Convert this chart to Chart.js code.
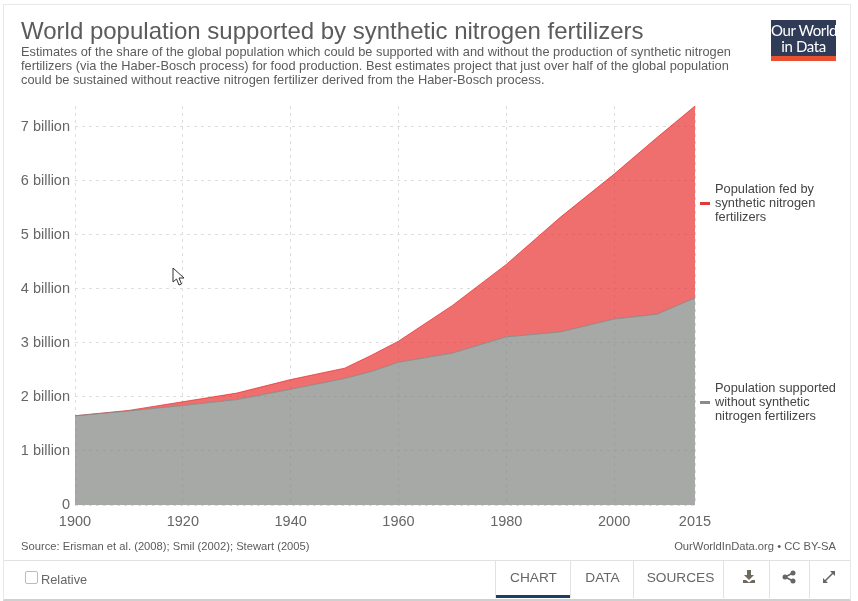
<!DOCTYPE html>
<html>
<head>
<meta charset="utf-8">
<script src="https://cdn.jsdelivr.net/npm/chart.js@4"></script>
<style>
  html, body { margin: 0; padding: 0; background: #fff; }
  body { width: 858px; height: 601px; position: relative; overflow: hidden; font-family: "Liberation Sans", Arial, sans-serif; }
  #frame { position: absolute; left: 3px; top: 4px; width: 846px; height: 594px; border: 1px solid #e8e8e8; border-bottom: 2px solid #d0d0d0; }
  #chart { position: absolute; left: 0; top: 0; }
  .t { position: absolute; white-space: nowrap; }
  #title { left: 21px; top: 17px; font-size: 24px; color: #5b5b5b; }
  #sub { left: 21px; top: 45px; font-size: 12.8px; line-height: 14px; color: #5b5b5b; }
  #logo { position: absolute; left: 771px; top: 20px; width: 65px; height: 41px; background: #2f3b57; color: #fff; text-align: center; font-family: Lato, sans-serif; font-size: 15px; line-height: 16px; white-space: nowrap; }
  #logo div { padding-top: 2px; letter-spacing: -0.4px; }
  #logo i { position: absolute; left: 0; bottom: 0; width: 100%; height: 5px; background: #e8502f; }
  .leg { position: absolute; left: 715px; font-size: 12.8px; line-height: 14px; color: #444; white-space: nowrap; }
  .dash { position: absolute; left: 700px; width: 10px; height: 3px; }
  #src { left: 21px; top: 540px; font-size: 11.2px; color: #5b5b5b; }
  #owid { right: 22px; top: 540px; font-size: 11.2px; color: #5b5b5b; }
  #bar { position: absolute; left: 4px; top: 560px; width: 846px; height: 38px; border-top: 1px solid #e2e2e2; }
  #check { position: absolute; left: 25px; top: 571px; width: 11px; height: 11px; border: 1px solid #bbb; border-radius: 2px; }
  #rel { left: 41px; top: 572px; font-size: 12.8px; color: #666; }
  .tab { position: absolute; top: 561px; height: 37px; border-left: 1px solid #e2e2e2; font-size: 13.7px; line-height: 33px; color: #666; text-align: center; }
  .ico { position: absolute; top: 570px; }
  #cur { position: absolute; left: 172px; top: 267px; }
</style>
</head>
<body>
<div id="frame"></div>
<canvas id="chart" width="858" height="601"></canvas>
<div class="t" id="title">World population supported by synthetic nitrogen fertilizers</div>
<div class="t" id="sub">Estimates of the share of the global population which could be supported with and without the production of synthetic nitrogen<br>fertilizers (via the Haber-Bosch process) for food production. Best estimates project that just over half of the global population<br>could be sustained without reactive nitrogen fertilizer derived from the Haber-Bosch process.</div>
<div id="logo"><div>Our World<br>in Data</div><i></i></div>
<div class="dash" style="top:202px;background:#e03a3a"></div>
<div class="leg" style="top:182px">Population fed by<br>synthetic nitrogen<br>fertilizers</div>
<div class="dash" style="top:401px;background:#8a8c8a"></div>
<div class="leg" style="top:381px">Population supported<br>without synthetic<br>nitrogen fertilizers</div>
<div class="t" id="src">Source: Erisman et al. (2008); Smil (2002); Stewart (2005)</div>
<div class="t" id="owid">OurWorldInData.org • CC BY-SA</div>
<div id="bar"></div>
<div id="check"></div>
<div class="t" id="rel">Relative</div>
<div class="tab" style="left:495px;width:75px">CHART<div style="position:absolute;left:0;right:0;bottom:0;height:3px;background:#1d3d63"></div></div>
<div class="tab" style="left:570px;width:63px">DATA</div>
<div class="tab" style="left:633px;width:87px;padding-left:3px">SOURCES</div>
<div class="tab" style="left:723px;width:46px"></div>
<div class="tab" style="left:769px;width:40px"></div>
<div class="tab" style="left:809px;width:40px"></div>
<svg class="ico" style="left:742px" width="14" height="14" viewBox="0 0 14 14"><path d="M5 0 H9 V5 H12 L7 10 L2 5 H5 Z M1 10 H4 L7 12.5 L10 10 H13 V13 H1 Z" fill="#6e6a5e"/></svg>
<svg class="ico" style="left:782px" width="14" height="14" viewBox="0 0 14 14"><path d="M11 3 L3 7 L11 11" stroke="#666" stroke-width="1.6" fill="none"/><circle cx="11" cy="3" r="2.5" fill="#666"/><circle cx="3" cy="7" r="2.5" fill="#666"/><circle cx="11" cy="11" r="2.5" fill="#666"/></svg>
<svg class="ico" style="left:822px" width="14" height="14" viewBox="0 0 14 14"><path d="M8 1 H13 V6 Z M1 8 V13 H6 Z" fill="#666"/><path d="M11 3 L3 11" stroke="#666" stroke-width="1.6"/></svg>
<svg id="cur" width="14" height="20" viewBox="0 0 14 20"><path d="M1 1 L1 15 L4.5 12 L7 18 L9.5 17 L7 11 L12 11 Z" fill="#fff" stroke="#333" stroke-width="1"/></svg>
<script>
const years = [1900, 1910, 1920, 1930, 1940, 1950, 1955, 1960, 1970, 1980, 1990, 2000, 2008, 2015]
const withoutFertilizer = [1.65, 1.74, 1.84, 1.95, 2.14, 2.34, 2.47, 2.64, 2.81, 3.11, 3.20, 3.44, 3.53, 3.83]
const fedByFertilizer = [0.00, 0.01, 0.07, 0.12, 0.18, 0.19, 0.30, 0.39, 0.88, 1.34, 2.12, 2.68, 3.27, 3.55]
const xTicks = [1900, 1920, 1940, 1960, 1980, 2000, 2015]
const yTicks = [0, 1, 2, 3, 4, 5, 6, 7]

function toPoints(values) {
    return values.map((v, i) => ({x: years[i], y: v}))
}

const config = {
    type: 'line',
    data: {
        datasets: [{
            label: 'Population supported without synthetic nitrogen fertilizers',
            data: toPoints(withoutFertilizer),
            fill: 'origin',
            backgroundColor: 'rgba(130, 132, 130, 0.7)',
            borderColor: 'rgba(130, 132, 130, 0.8)',
            borderWidth: 1,
            pointRadius: 0,
            tension: 0
        }, {
            label: 'Population fed by synthetic nitrogen fertilizers',
            data: toPoints(fedByFertilizer),
            fill: '-1',
            backgroundColor: 'rgba(232, 49, 49, 0.7)',
            borderColor: 'rgba(232, 49, 49, 0.75)',
            borderWidth: 1,
            pointRadius: 0,
            tension: 0
        }]
    },
    options: {
        responsive: false,
        animation: false,
        layout: {padding: {left: 0, right: 163, top: 106, bottom: 0}},
        plugins: {legend: {display: false}, tooltip: {enabled: false}},
        scales: {
            x: {
                type: 'linear',
                min: 1900,
                max: 2015,
                afterBuildTicks: axis => { axis.ticks = xTicks.map(v => ({value: v})) },
                afterFit: axis => { axis.height = 96 },
                ticks: {
                    autoSkip: false,
                    maxRotation: 0,
                    padding: 8,
                    color: '#666',
                    font: {family: '"Liberation Sans"', size: 14.5},
                    callback: v => String(v)
                },
                grid: {color: '#ddd', drawTicks: false},
                border: {display: false, dash: [3, 4]}
            },
            y: {
                stacked: true,
                min: 0,
                max: 7.38,
                afterBuildTicks: axis => { axis.ticks = yTicks.map(v => ({value: v})) },
                afterFit: axis => { axis.width = 75 },
                ticks: {
                    autoSkip: false,
                    color: '#666',
                    padding: 5,
                    font: {family: '"Liberation Sans"', size: 14.5},
                    callback: v => v === 0 ? '0' : v + ' billion'
                },
                grid: {color: '#ddd', drawTicks: false},
                border: {display: false, dash: [3, 4]}
            }
        }
    }
}

new Chart(document.getElementById('chart').getContext('2d'), config)
</script>
</body>
</html>
